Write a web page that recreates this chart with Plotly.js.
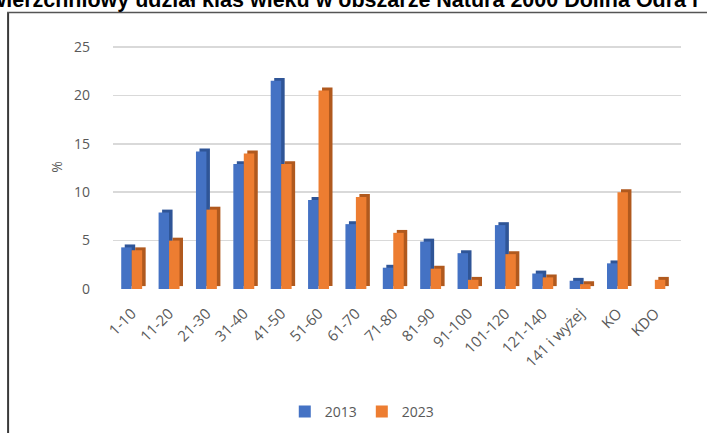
<!DOCTYPE html>
<html>
<head>
<meta charset="utf-8">
<script src="https://cdn.plot.ly/plotly-3.0.1.min.js"></script>
<style>html,body{margin:0;padding:0;background:#fff;overflow:hidden}#chart{width:707px;height:433px}</style>
</head>
<body>
<div id="chart"></div>
<script>
// ---- data ----
const categories = ["1-10","11-20","21-30","31-40","41-50","51-60","61-70","71-80","81-90","91-100","101-120","121-140","141 i wyżej","KO","KDO"];
const values2013 = [4.3, 7.9, 14.2, 12.9, 21.5, 9.2, 6.7, 2.2, 4.9, 3.7, 6.6, 1.6, 0.85, 2.65, 0];
const values2023 = [4.0, 5.0, 8.2, 14.0, 12.9, 20.5, 9.5, 5.8, 2.1, 0.95, 3.6, 1.2, 0.5, 10.0, 0.95];
const seriesNames = ["2013", "2023"];
const yTicks = [0, 5, 10, 15, 20, 25];
const titleText = "Powierzchniowy udział klas wieku w obszarze Natura 2000 Dolina Odra i";
const yTitle = "%";

// ---- layout constants ----
const W = 707, H = 433;
const M = {l: 113, r: 25.5, t: 45, b: 144};
const PW = W - M.l - M.r, PH = H - M.t - M.b;
const px2x = p => (p - M.l) / PW;
const px2y = p => (H - M.b - p) / PH;

const barW = 0.28, depthX = 0.094, depthY = 0.3;
const blue = "#4472C4", blueDark = "#2F5597";
const orange = "#ED7D31", orangeDark = "#B0591E";
const gray = "#595959";

function shadow(vals, off, color) {
  return {type: "bar", x: categories, y: vals, base: depthY, offset: off + depthX, width: barW,
    marker: {color: color, line: {width: 0}}, showlegend: false, hoverinfo: "skip"};
}
function front(vals, off, color, name) {
  return {type: "bar", x: categories, y: vals, offset: off, width: barW, name: name,
    marker: {color: color, line: {width: 0}}};
}

const data = [
  shadow(values2013, -barW, blueDark),
  front(values2013, -barW, blue, seriesNames[0]),
  shadow(values2023, 0, orangeDark),
  front(values2023, 0, orange, seriesNames[1])
];

const layout = {
  width: W, height: H,
  margin: {l: M.l, r: M.r, t: M.t, b: M.b, pad: 0, autoexpand: false},
  paper_bgcolor: "#fff", plot_bgcolor: "#fff",
  barmode: "overlay",
  showlegend: true,
  font: {family: "Open Sans, sans-serif", color: gray, size: 14},
  xaxis: {
    type: "category", range: [-0.5, 14.7], tickangle: -45, showgrid: false, zeroline: false,
    showline: false, ticks: "outside", ticklen: 9, tickcolor: "rgba(0,0,0,0)",
    tickfont: {size: 15, color: gray}, automargin: false
  },
  yaxis: {
    range: [0, 25.2], tickvals: yTicks, ticktext: yTicks.map(String), showgrid: true,
    gridcolor: "#D9D9D9", gridwidth: 1.5, zeroline: false, showline: false, ticks: "",
    ticklabelstandoff: 22, tickfont: {size: 14, color: gray}, automargin: false,
    title: {text: yTitle, font: {size: 14, color: gray}, standoff: 8}
  },
  legend: {
    orientation: "h", x: px2x(362.5), xanchor: "center", y: px2y(412), yanchor: "middle",
    font: {size: 14, color: gray}, itemwidth: 30, traceorder: "normal"
  },
  annotations: [{
    text: "<b>" + titleText + "</b>", showarrow: false, xref: "paper", yref: "paper",
    x: px2x(-40), xanchor: "left", y: px2y(0), yanchor: "middle",
    font: {family: "Liberation Sans, Arial, sans-serif", size: 21.5, color: "#000"}
  }],
  shapes: [
    {type: "line", xref: "paper", yref: "paper", x0: px2x(8), x1: px2x(8), y0: px2y(12.5), y1: px2y(450),
      line: {color: "#3A3A3A", width: 2}},
    {type: "line", xref: "paper", yref: "paper", x0: px2x(7), x1: px2x(720), y0: px2y(12.5), y1: px2y(12.5),
      line: {color: "#555555", width: 1.5}}
  ]
};

Plotly.newPlot("chart", data, layout, {displayModeBar: false, staticPlot: true});
</script>
</body>
</html>
